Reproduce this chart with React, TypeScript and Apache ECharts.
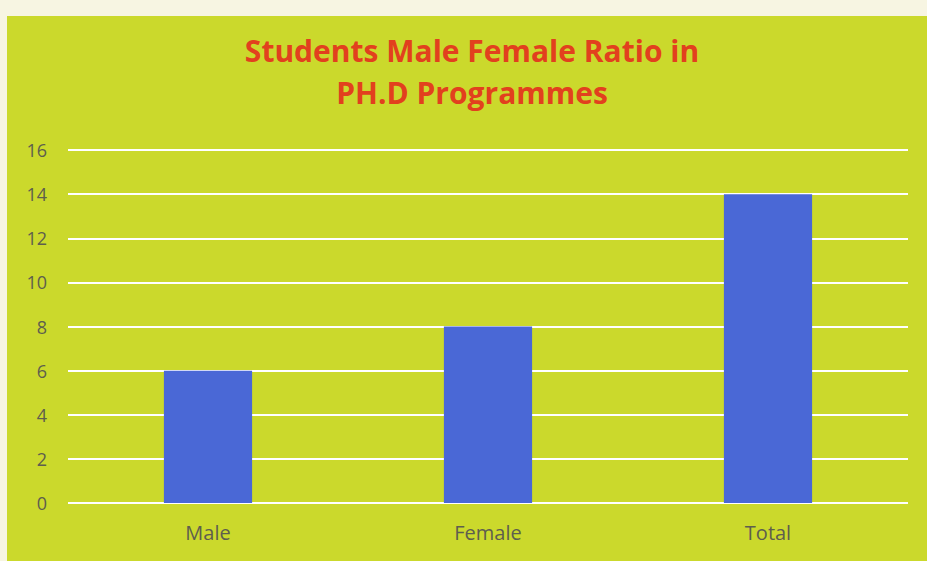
import React, { useEffect, useRef } from "react";
import * as echarts from "echarts";

const categories = ["Male", "Female", "Total"];
const ratioValues = [6, 8, 14];
const yTicks = [0, 2, 4, 6, 8, 10, 12, 14, 16];
const titleLines = ["Students Male Female Ratio in", "PH.D Programmes"];

export default function App() {
  const ref = useRef<HTMLDivElement>(null);
  useEffect(() => {
    if (!ref.current) return;
    const chart = echarts.init(ref.current, undefined, { renderer: "svg" });
    chart.setOption({
      animation: false,
      backgroundColor: "#F7F5E2",
      graphic: [
        {
          type: "rect",
          z: -10,
          silent: true,
          shape: { x: 7, y: 16, width: 920, height: 545 },
          style: { fill: "#CBD92C" },
        },
        {
          type: "text",
          x: 472,
          y: 71,
          silent: true,
          style: {
            text: titleLines.join("\n"),
            fontFamily: "Open Sans",
            fontWeight: "bold",
            fontSize: 30,
            lineHeight: 42,
            fill: "#E2401E",
            align: "center",
            verticalAlign: "middle",
          },
        },
      ],
      grid: { left: 68, right: 19, top: 150, bottom: 58 },
      xAxis: {
        type: "category",
        data: categories,
        axisLine: { show: false },
        axisTick: { show: false },
        axisLabel: {
          margin: 19,
          fontFamily: "Open Sans",
          fontSize: 20,
          color: "#5E5E4E",
        },
      },
      yAxis: {
        type: "value",
        min: yTicks[0],
        max: yTicks[yTicks.length - 1],
        interval: 2,
        axisLine: { show: false },
        axisTick: { show: false },
        axisLabel: {
          margin: 21,
          fontFamily: "Open Sans",
          fontSize: 18,
          color: "#5E5E4E",
        },
        splitLine: { lineStyle: { color: "#FFFFFF", width: 2 } },
      },
      series: [
        {
          type: "bar",
          data: ratioValues,
          barWidth: "31.5%",
          itemStyle: { color: "#4A68D6" },
        },
      ],
    });
    return () => chart.dispose();
  }, []);
  return (
    <div
      ref={ref}
      style={{ position: "fixed", left: 0, top: 0, width: 927, height: 561 }}
    />
  );
}
